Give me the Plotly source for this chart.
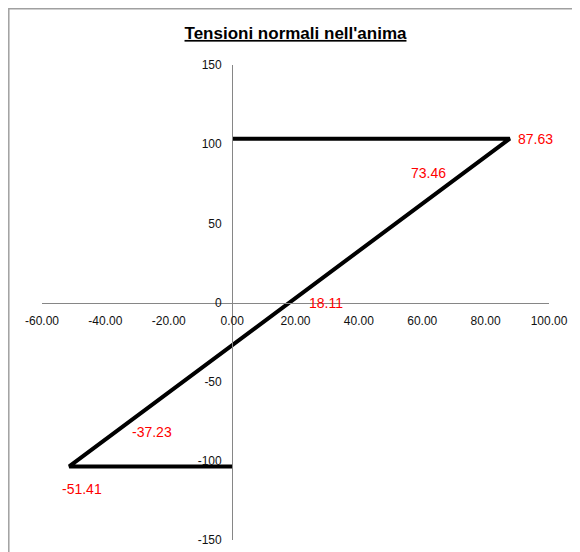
import plotly.graph_objects as go

# profilo delle tensioni (x = tensione, y = quota)
tensione = [0.0, 87.63, -51.41, 0.0]
quota = [103.5, 103.5, -103.5, -103.5]

# etichette dei valori
etichette = ["87.63", "73.46", "18.11", "-37.23", "-51.41"]
etich_x = [87.63, 73.46, 18.11, -37.23, -51.41]
etich_y = [103.5, 82, 0, -82, -103.5]

x_ticks = [-60, -40, -20, 0, 20, 40, 60, 80, 100]
x_tick_text = ["-60.00", "-40.00", "-20.00", "0.00", "20.00", "40.00", "60.00", "80.00", "100.00"]
y_ticks = [-150, -100, -50, 0, 50, 100, 150]
y_tick_text = ["-150", "-100", "-50", "0", "50", "100", "150"]

font_base = "Liberation Sans, Arial, sans-serif"

# la pagina ha un margine di 8 px: dimensioni e margini ridotti di conseguenza
W, H = 572, 544
ML, MR, MT, MB = 34, 31, 57, 12
pw, ph = W - ML - MR, H - MT - MB

fig = go.Figure()

fig.add_trace(go.Scatter(
    x=tensione,
    y=quota,
    mode="lines",
    line=dict(color="black", width=4),
    showlegend=False,
    hoverinfo="skip",
))

# posizione delle etichette rispetto al punto (come in Excel)
ancora = ["left", "right", "left", "left", "center"]
sposta_x = [6, -17, 17, 16, 13]
sposta_y = [0, 0, 0, 0, -23]

for t, xv, yv, a, dx, dy in zip(etichette, etich_x, etich_y, ancora, sposta_x, sposta_y):
    fig.add_annotation(
        x=xv, y=yv, text=t, showarrow=False,
        xanchor=a, yanchor="middle", xshift=dx, yshift=dy,
        font=dict(family=font_base, size=14, color="#ff0000"),
    )

fig.update_layout(
    width=W,
    height=H,
    margin=dict(l=ML, r=MR, t=MT, b=MB),
    paper_bgcolor="white",
    plot_bgcolor="white",
    title=dict(
        text="<b><u>Tensioni normali nell'anima</u></b>",
        x=0.5, xref="paper", y=1 - 25 / H, yanchor="middle",
        font=dict(family=font_base, size=17, color="black"),
    ),
    xaxis=dict(
        range=[-60, 100],
        tickvals=x_ticks,
        ticktext=x_tick_text,
        showgrid=False,
        zeroline=False,
        showline=True,
        linecolor="#868686",
        linewidth=1,
        anchor="free",
        position=0.5,
        ticks="",
        ticklabelstandoff=7,
        automargin=False,
        tickfont=dict(family=font_base, size=12, color="#111"),
    ),
    yaxis=dict(
        range=[-150, 150],
        tickvals=y_ticks,
        ticktext=y_tick_text,
        showgrid=False,
        zeroline=False,
        showline=True,
        linecolor="#868686",
        linewidth=1,
        anchor="free",
        position=60 / 160,
        ticks="",
        ticklabelstandoff=8,
        automargin=False,
        tickfont=dict(family=font_base, size=12, color="#111"),
    ),
    shapes=[dict(
        type="rect", xref="paper", yref="paper",
        x0=(0.8 - ML) / pw, x1=(568 - ML) / pw,
        y0=-30 / ph, y1=(H - MB - 0.8) / ph,
        line=dict(color="#a0a0a0", width=1.5),
        fillcolor="rgba(0,0,0,0)",
    )],
)

fig.write_html("out.html")
